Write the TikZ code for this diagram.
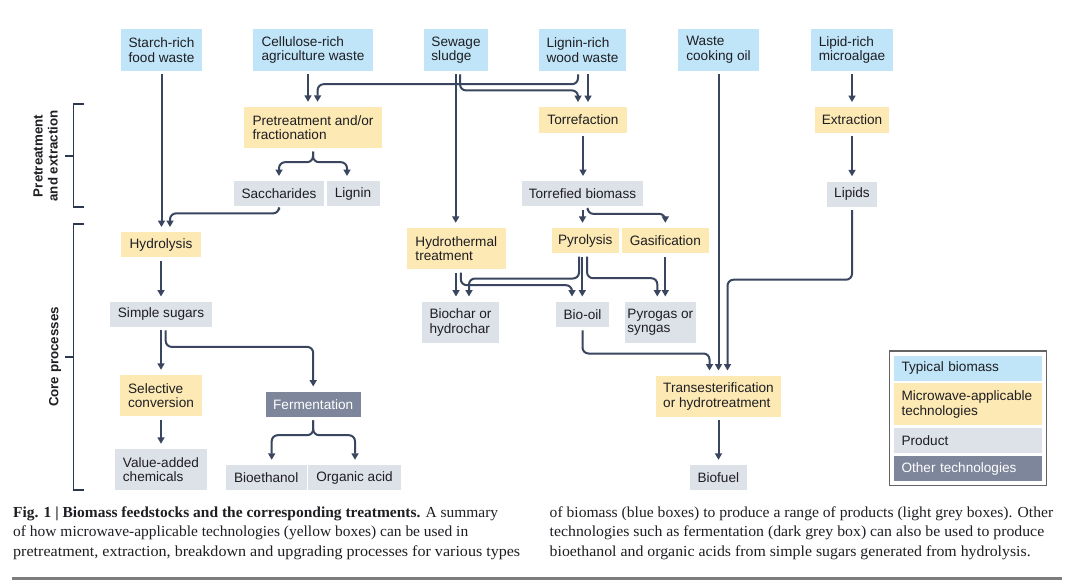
\documentclass[tikz,border=0pt]{standalone}
\usepackage{fontspec}
\setmainfont{Liberation Serif}
\setsansfont{Liberation Sans}
\usetikzlibrary{arrows.meta,fit}
\definecolor{bluec}{RGB}{192,229,248}
\definecolor{yellowc}{RGB}{253,233,180}
\definecolor{greyc}{RGB}{221,225,232}
\definecolor{darkc}{RGB}{125,134,155}
\definecolor{linec}{RGB}{58,70,95}
\definecolor{legc}{RGB}{100,100,100}
\definecolor{rulec}{RGB}{125,125,125}
\definecolor{txtc}{RGB}{30,30,35}
\newcommand\diafont{\sffamily\fontsize{13.6}{14.6}\selectfont}
\newsavebox\capbox
\newlength\capw
\newcommand\fitline[2]{\sbox\capbox{#2}\setlength\capw{\wd\capbox}\pgfmathsetmacro\capratio{#1/\capw}\scalebox{\capratio}[1]{\usebox\capbox}}
\begin{document}
\begin{tikzpicture}[x=1pt,y=-1pt,
  box/.style={inner sep=0pt, align=left, font=\diafont, text=txtc, minimum height=25pt},
  bio/.style={box, fill=bluec},
  mw/.style={box, fill=yellowc},
  prod/.style={box, fill=greyc},
  oth/.style={box, fill=darkc, text=white},
  arr/.style={draw=linec, line width=2pt, rounded corners=6pt, -{Triangle[length=6.5pt,width=7pt]}, shorten <=3.5pt, shorten >=5pt},
  brk/.style={draw=linec!80!black, line width=1.2pt},
  side/.style={inner sep=0pt, align=center, rotate=90, text=txtc, font=\sffamily\bfseries\fontsize{13.3}{15}\selectfont},
  lg/.style={inner xsep=7.5pt, inner ysep=0pt, text width=132.7pt, align=left, text=txtc, font=\diafont},
  captext/.style={inner sep=0pt, anchor=base west, text=txtc, font=\rmfamily\fontsize{15.3}{18}\selectfont}]
\useasboundingbox (0,0) rectangle (1075,582);
\fill[white] (0,0) rectangle (1075,582);

% top row: biomass
\node[bio, minimum width=81.6pt, minimum height=41.4pt] (starch) at (161.5,50) {Starch-rich\\food waste};
\node[bio, minimum width=120pt, minimum height=41.4pt] (cell) at (313,50) {Cellulose-rich\\agriculture waste};
\node[bio, minimum width=64pt, minimum height=41.4pt] (sew) at (456,50) {Sewage\\sludge};
\node[bio, minimum width=87pt, minimum height=41.4pt] (lig) at (582.5,50) {Lignin-rich\\wood waste};
\node[bio, minimum width=81pt, minimum height=41.4pt] (oil) at (718.5,50) {Waste\\cooking oil};
\node[bio, minimum width=82.6pt, minimum height=41.4pt] (lipid) at (852,50) {Lipid-rich\\microalgae};

% pretreatment row
\node[mw, minimum width=138pt, minimum height=41pt] (pre) at (313,127.5) {Pretreatment and/or\\fractionation};
\node[mw, minimum width=88pt, minimum height=25.5pt] (torr) at (583,120) {Torrefaction};
\node[mw, minimum width=74pt, minimum height=25.5pt] (extr) at (852,120) {Extraction};

\node[prod, minimum width=90pt] (sacc) at (279,193.7) {Saccharides};
\node[prod, minimum width=53pt] (lign) at (353,193.7) {Lignin};
\node[prod, minimum width=121.6pt] (torb) at (582.5,193.7) {Torrefied biomass};
\node[prod, minimum width=50.6pt] (lipids) at (852,194) {Lipids};

% core processes
\node[mw, minimum width=80pt] (hydl) at (161,244.7) {Hydrolysis};
\node[mw, minimum width=99.3pt, minimum height=41pt] (hydt) at (456.3,248.5) {Hydrothermal\\treatment};
\node[mw, minimum width=66.7pt] (pyro) at (585.3,240.5) {Pyrolysis};
\node[mw, minimum width=87.3pt] (gasi) at (665.3,240.5) {Gasification};

\node[prod, minimum width=101.7pt] (sugar) at (161,314.2) {Simple sugars};
\node[prod, minimum width=77pt, minimum height=41pt] (bchar) at (460.5,322.2) {Biochar or\\hydrochar};
\node[prod, minimum width=53pt] (boil) at (582.5,314.2) {Bio-oil};
\node[prod, minimum width=70.7pt, minimum height=41pt] (pgas) at (660.3,322.2) {Pyrogas or\\syngas};

\node[mw, minimum width=81.7pt, minimum height=41pt] (selc) at (161,395.5) {Selective\\conversion};
\node[oth, minimum width=95pt] (ferm) at (313.2,404.2) {Fermentation};
\node[mw, minimum width=125pt, minimum height=41pt] (trans) at (718.5,396.2) {Transesterification\\or hydrotreatment};

\node[prod, minimum width=91.7pt, minimum height=41pt] (vac) at (161,469.5) {Value-added\\chemicals};
\node[prod, minimum width=81pt] (beth) at (266.2,477.5) {Bioethanol};
\node[prod, minimum width=93pt] (oacid) at (354.5,477.5) {Organic acid};
\node[prod, minimum width=56.7pt] (biof) at (718.3,477.5) {Biofuel};

% connectors
\draw[arr] (starch.south) -- (starch.south |- hydl.north);
\draw[arr] (sacc.south) -- ++(0,7) -| ([xshift=9pt]hydl.north);
\draw[arr] ([xshift=-5pt]cell.south) -- ([xshift=-5pt]pre.north);
\draw[arr] ([xshift=-4.5pt]lig.south) -- ++(0,13.3) -| ([xshift=4.6pt]pre.north);
\draw[arr] ([xshift=5.5pt]lig.south) -- ([xshift=5.5pt]lig.south |- torr.north);
\draw[arr] ([xshift=-0.3pt]sew.south) -- ([xshift=-0.3pt]sew.south |- hydt.north);
\draw[arr] ([xshift=4pt]sew.south) -- ++(0,19.5) -| ([xshift=-5pt]torr.north);
\draw[arr] (pre.south) -- ++(0,14) -| (sacc.north);
\draw[arr] (pre.south) -- ++(0,14) -| ([xshift=-6pt]lign.north);
\draw[arr] (torr.south) -- (torr.south |- torb.north);
\draw[arr] (torb.south) -- (torb.south |- pyro.north);
\draw[arr] ([xshift=5pt]torb.south) -- ++(0,7.5) -| (gasi.north);
\draw[arr] (lipid.south) -- (lipid.south |- extr.north);
\draw[arr] (extr.south) -- (extr.south |- lipids.north);
\draw[arr] (lipids.south) -- ++(0,73) -| ([xshift=9pt]trans.north);
\draw[arr] (oil.south) -- (oil.south |- trans.north);
\draw[arr] (boil.south) -- ++(0,26.6) -| ([xshift=-9pt]trans.north);
\draw[arr] (trans.south) -- (trans.south |- biof.north);
\draw[arr] ([xshift=-0.3pt]hydt.south) -- ([xshift=-0.3pt]hydt.south |- bchar.north);
\draw[arr] ([xshift=4.5pt]hydt.south) -- ++(0,16) -| ([xshift=-10.5pt]boil.north);
\draw[arr] ([xshift=-6.3pt]pyro.south) -- ++(0,25.3) -| ([xshift=8.5pt]bchar.north);
\draw[arr] ([xshift=-3pt]pyro.south) -- ([xshift=-3pt]pyro.south |- boil.north);
\draw[arr] ([xshift=1.7pt]pyro.south) -- ++(0,25) -| ([xshift=-3pt]pgas.north);
\draw[arr] (gasi.south) -- (gasi.south |- pgas.north);
\draw[arr] (hydl.south) -- (hydl.south |- sugar.north);
\draw[arr] (sugar.south) -- (sugar.south |- selc.north);
\draw[arr] ([xshift=4.7pt]sugar.south) -- ++(0,20) -| (ferm.north);
\draw[arr] (selc.south) -- (selc.south |- vac.north);
\draw[arr] (ferm.south) -- ++(0,18.3) -| ([xshift=5.5pt]beth.north);
\draw[arr] (ferm.south) -- ++(0,18.3) -| ([xshift=0.5pt]oacid.north);

% side brackets
\draw[brk] (84,104) -- (73.5,104) -- (73.5,207) -- (84,207);
\draw[brk] (73.5,156) -- (65,156);
\draw[brk] (84,224) -- (73.5,224) -- (73.5,490) -- (84,490);
\draw[brk] (73.5,357) -- (65,357);
\node[side] (lpre) at (45.5,156) {Pretreatment\\and extraction};
\node[side] (lcore) at (55,357) {Core processes};

% legend
\node[lg, fill=bluec, minimum height=25pt] (l1) at (967.85,368.2) {Typical biomass};
\node[lg, fill=yellowc, minimum height=41.7pt] (l2) at (967.85,404.2) {Microwave-applicable\\technologies};
\node[lg, fill=greyc, minimum height=25.6pt] (l3) at (967.85,440.5) {Product};
\node[lg, fill=darkc, text=white, minimum height=25pt] (l4) at (967.85,468.5) {Other technologies};
\node[draw=legc, line width=1.3pt, fit=(l1)(l4), inner sep=4.6pt] (leg) {};

% caption
\node[captext] (c1) at (13,517) {\fitline{485}{\textbf{Fig. 1 | Biomass feedstocks and the corresponding treatments.} A summary}};
\node[captext] (c2) at (13,536.5) {\fitline{455}{of how microwave-applicable technologies (yellow boxes) can be used in}};
\node[captext] (c3) at (13,556) {\fitline{507}{pretreatment, extraction, breakdown and upgrading processes for various types}};
\node[captext] (c4) at (549.5,517) {\fitline{503.5}{of biomass (blue boxes) to produce a range of products (light grey boxes). Other}};
\node[captext] (c5) at (549.5,536.5) {\fitline{494.5}{technologies such as fermentation (dark grey box) can also be used to produce}};
\node[captext] (c6) at (549.5,556) {\fitline{481}{bioethanol and organic acids from simple sugars generated from hydrolysis.}};
\draw[rulec, line width=2.6pt] (12,578.5) -- (1062,578.5);
\end{tikzpicture}
\end{document}
